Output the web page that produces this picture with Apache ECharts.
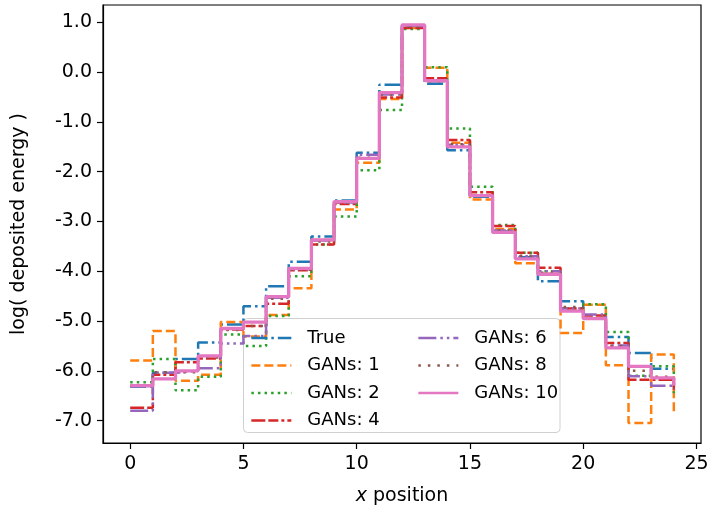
<!DOCTYPE html>
<html>
<head>
<meta charset="utf-8">
<script src="https://cdn.jsdelivr.net/npm/echarts@6/dist/echarts.min.js"></script>
<style>
  html, body { margin: 0; padding: 0; background: #fff; }
  #chart { width: 712px; height: 513px; }
</style>
</head>
<body>
<div id="chart"></div>
<script>
// x positions of the step edges (post style, last value only closes the step)
const xPos = [0, 1, 2, 3, 4, 5, 6, 7, 8, 9, 10, 11, 12, 13, 14, 15, 16, 17, 18, 19, 20, 21, 22, 23, 24]

const trueVals = [-6.32, -6.04, -5.76, -5.43, -5.07, -4.70, -4.30, -3.81, -3.30, -2.58, -1.62, -0.25, 0.93, -0.23, -1.57, -2.50, -3.20, -3.72, -4.20, -4.60, -4.95, -5.32, -5.64, -5.96, -6.00]
const gan1 = [-5.79, -5.20, -6.20, -6.08, -5.02, -5.31, -4.88, -4.34, -3.37, -2.76, -1.82, -0.54, 0.89, 0.09, -1.42, -2.56, -3.15, -3.84, -4.05, -5.24, -4.67, -5.89, -7.05, -5.67, -6.88]
const gan2 = [-6.23, -5.76, -6.39, -6.12, -5.27, -5.50, -4.90, -4.10, -3.46, -2.90, -1.97, -0.76, 0.87, 0.10, -1.13, -2.30, -3.07, -3.63, -4.00, -4.75, -4.66, -5.22, -6.10, -5.91, -6.45]
const gan4 = [-6.74, -6.08, -5.83, -5.75, -5.17, -5.10, -4.65, -3.98, -3.46, -2.65, -1.74, -0.51, 0.89, -0.12, -1.36, -2.41, -3.09, -3.63, -3.93, -4.75, -4.89, -5.44, -6.18, -6.18, -6.38]
const gan6 = [-6.80, -6.04, -6.00, -5.95, -5.45, -5.30, -4.53, -3.96, -3.38, -2.62, -1.66, -0.45, 0.93, -0.18, -1.46, -2.48, -3.18, -3.70, -4.00, -4.75, -4.87, -5.49, -6.11, -6.30, -6.35]
const gan8 = [-6.30, -6.03, -6.03, -5.73, -5.18, -5.10, -4.55, -3.97, -3.40, -2.62, -1.72, -0.45, 0.92, -0.18, -1.45, -2.48, -3.18, -3.69, -4.03, -4.72, -4.94, -5.50, -6.00, -6.12, -6.20]
const gan10 = [-6.30, -6.16, -6.00, -5.70, -5.15, -5.02, -4.51, -3.94, -3.37, -2.60, -1.73, -0.41, 0.95, -0.17, -1.50, -2.48, -3.22, -3.75, -4.06, -4.80, -4.95, -5.54, -5.91, -6.14, -6.30]

const xTicks = [0, 5, 10, 15, 20, 25]
const yTicks = [-7, -6, -5, -4, -3, -2, -1, 0, 1]

const FONT = 'DejaVu Sans'

// name, values, colour, dash, width
const lines = [
  ['True', trueVals, '#1f77b4', [16, 4, 2.5, 4], 2.5],
  ['GANs: 1', gan1, '#ff7f0e', [9, 4], 2.5],
  ['GANs: 2', gan2, '#2ca02c', [2.5, 4.1], 2.5],
  ['GANs: 4', gan4, '#d62728', [14, 3, 10, 3, 3, 3], 2.5],
  ['GANs: 6', gan6, '#9467bd', [18, 4, 2.5, 4, 2.5, 4], 2.5],
  ['GANs: 8', gan8, '#8c564b', [2.5, 7], 2.5],
  ['GANs: 10', gan10, '#e377c2', 'solid', 3.3]
]

const series = lines.map(([name, vals, color, dash, width]) => ({
  name,
  type: 'line',
  step: 'end',
  symbol: 'none',
  animation: false,
  data: xPos.map((x, i) => [x, vals[i]]),
  lineStyle: { color, type: dash, width, cap: 'butt' },
  itemStyle: { color }
}))

// shared legend look (matplotlib style, two columns)
function legendCol (left, names) {
  return {
    orient: 'vertical',
    left,
    top: 324,
    z: 5,
    data: names,
    itemWidth: 40,
    itemHeight: 14,
    itemGap: 9.5,
    // hide the marker dot, keep only the line
    itemStyle: { opacity: 0, borderWidth: 0 },
    lineStyle: { width: 2.7 },
    textStyle: { fontFamily: FONT, fontSize: 18, lineHeight: 18, color: '#000', padding: [0, 0, 0, 11] }
  }
}

const option = {
  backgroundColor: '#fff',
  animation: false,
  grid: {
    left: 103, right: 11, top: 5, bottom: 70,
    show: true, borderColor: '#000', borderWidth: 1.2
  },
  xAxis: {
    type: 'value',
    min: -1.2,
    max: 25.2,
    name: '{i|x} position',
    nameLocation: 'middle',
    nameGap: 44,
    nameTextStyle: {
      fontFamily: FONT, fontSize: 19, color: '#000',
      rich: { i: { fontFamily: FONT, fontSize: 19, fontStyle: 'italic', color: '#000' } }
    },
    axisLine: { show: true, onZero: false, lineStyle: { color: '#000', width: 1.2 } },
    axisTick: { show: true, length: 6, lineStyle: { color: '#000', width: 1.2 }, customValues: xTicks },
    axisLabel: { fontFamily: FONT, fontSize: 19, color: '#000', margin: 12, customValues: xTicks },
    splitLine: { show: false }
  },
  yAxis: {
    type: 'value',
    min: -7.45,
    max: 1.35,
    name: 'log( deposited energy )',
    nameLocation: 'middle',
    nameRotate: 90,
    nameGap: 74,
    nameTextStyle: { fontFamily: FONT, fontSize: 19, color: '#000' },
    axisLine: { show: true, onZero: false, lineStyle: { color: '#000', width: 1.2 } },
    axisTick: { show: true, length: 6, lineStyle: { color: '#000', width: 1.2 }, customValues: yTicks },
    axisLabel: {
      fontFamily: FONT, fontSize: 19, color: '#000', margin: 11,
      customValues: yTicks,
      formatter: v => v.toFixed(1)
    },
    splitLine: { show: false }
  },
  legend: [
    legendCol(245, ['True', 'GANs: 1', 'GANs: 2', 'GANs: 4']),
    legendCol(412, ['GANs: 6', 'GANs: 8', 'GANs: 10'])
  ],
  graphic: [{
    type: 'rect',
    z: 3,
    shape: { x: 243.5, y: 318.5, width: 316.5, height: 114, r: 4 },
    style: { fill: 'rgba(255,255,255,0.8)', stroke: '#d0d0d0', lineWidth: 1 }
  }],
  series
}

const chart = echarts.init(document.getElementById('chart'))
chart.setOption(option)
</script>
</body>
</html>
